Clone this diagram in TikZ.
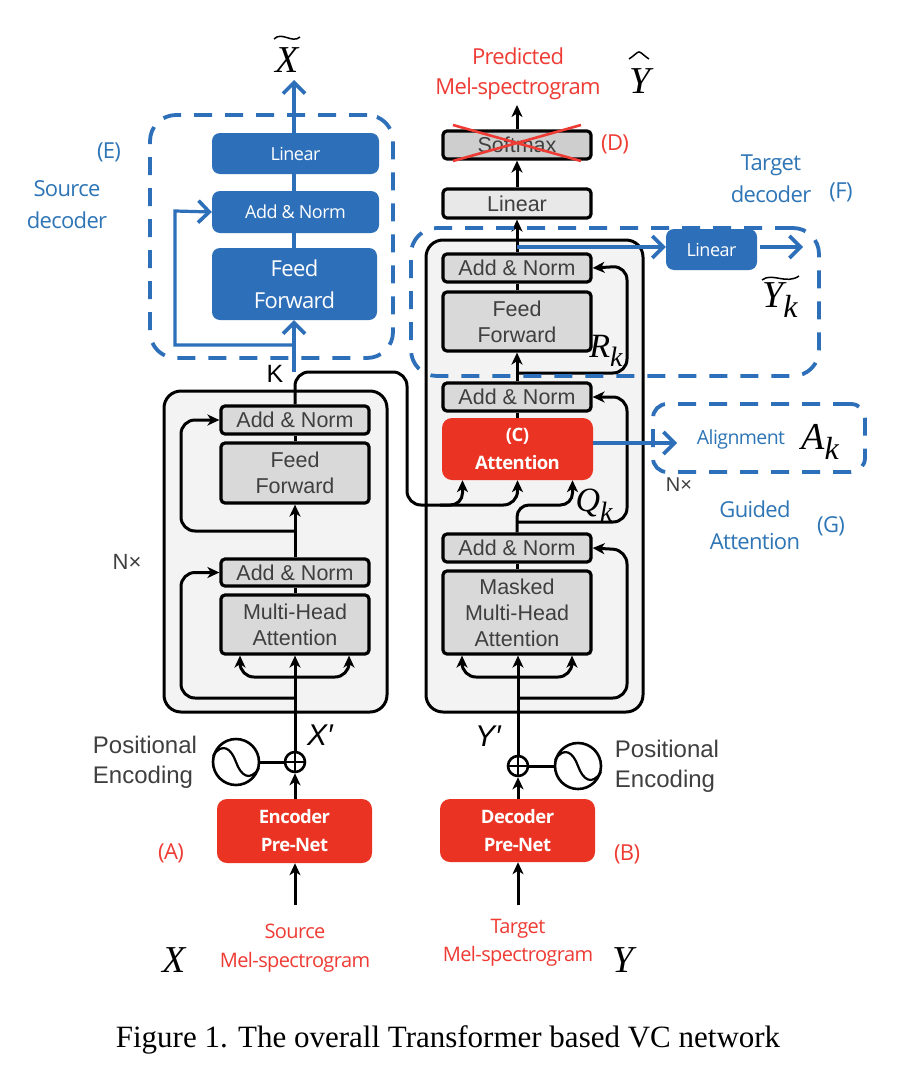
\documentclass[tikz,border=0pt]{standalone}
\usepackage{fontspec}
\usetikzlibrary{arrows.meta}
\setmainfont{Liberation Sans}
\newfontfamily\opn[LetterSpace=-3]{Open Sans}
\newfontfamily\tms{Liberation Serif}
\newcommand{\subk}[1]{\raisebox{-0.28em}{\fontsize{#1}{#1}\selectfont k}}
\definecolor{bluedk}{HTML}{2E6FB9}
\definecolor{bluelb}{HTML}{2E75B6}
\definecolor{redbx}{HTML}{EA3323}
\definecolor{redtx}{HTML}{EE3B34}
\definecolor{graybx}{HTML}{D9D9D9}
\definecolor{graypn}{HTML}{F3F3F3}
\definecolor{graytx}{HTML}{3F3F3F}
\tikzset{
  x=1pt,y=-1pt,
  tri/.style={-{Stealth[length=12pt,width=11pt,inset=3.5pt]}},
  wire/.style={line width=3pt,black,rounded corners=14pt},
  bwire/.style={line width=4pt,bluedk},
  barb/.style={-{Straight Barb[length=11pt,width=22pt,line width=3.6pt]}},
  panel/.style={draw=black,line width=3pt,fill=graypn,rounded corners=17pt,inner sep=0pt},
  gbox/.style={draw=black,line width=3.2pt,fill=graybx,rounded corners=4pt,minimum width=148pt,inner sep=0pt,align=center,text=graytx,font=\fontsize{21.5}{26}\selectfont},
  bbox/.style={fill=bluedk,rounded corners=8pt,inner sep=0pt,align=center,text=white,font=\opn\fontsize{22}{32}\selectfont},
  rbox/.style={fill=redbx,rounded corners=10pt,inner sep=0pt,align=center,text=white,font=\opn\bfseries\fontsize{18.5}{28}\selectfont},
  dbox/.style={draw=bluedk,line width=3.8pt,dash pattern=on 18pt off 13pt,rounded corners=26pt,inner sep=0pt},
  bluelab/.style={text=bluelb,align=center,inner sep=0pt,font=\opn\fontsize{22}{32}\selectfont},
  redlab/.style={text=redtx,align=center,inner sep=0pt,font=\opn\fontsize{22}{30}\selectfont},
  graylab/.style={text=graytx,align=left,inner sep=0pt,font=\fontsize{24}{30}\selectfont},
  mathlab/.style={text=black,inner sep=0pt,font=\tms\itshape\fontsize{38}{38}\selectfont},
  mathmid/.style={text=black,inner sep=0pt,font=\tms\itshape\fontsize{34}{34}\selectfont},
  primelab/.style={text=black,inner sep=0pt,font=\itshape\fontsize{30}{30}\selectfont},
  sinecirc/.style={draw=black,line width=2.6pt,circle,minimum size=46pt,inner sep=0pt},
  pluscirc/.style={draw=black,line width=2.6pt,circle,fill=white,minimum size=20pt,inner sep=0pt},
  sinewave/.pic={\draw[line width=2.2pt] (-23,-6) .. controls (-14,-20) and (-5,-14) .. (0,0) .. controls (5,14) and (14,20) .. (23,6);},
}
\begin{document}
\begin{tikzpicture}
\useasboundingbox (0,0) rectangle (904,1084);
\fill[white] (0,0) rectangle (904,1084);

% panels
\node[panel,minimum width=223pt,minimum height=321pt] (encpanel) at (275.5,551.5) {};
\node[panel,minimum width=217pt,minimum height=472pt] (decpanel) at (534.5,476) {};

% encoder blocks
\node[gbox,minimum height=28pt] (ean2) at (295,420) {Add \& Norm};
\node[gbox,minimum height=60pt] (eff) at (295,473) {Feed\\Forward};
\node[gbox,minimum height=27pt] (ean1) at (295,572.5) {Add \& Norm};
\node[gbox,minimum height=59pt] (emh) at (295,624.5) {Multi-Head\\Attention};

% decoder blocks
\node[gbox,minimum height=28pt,fill=graybx!95!black] (dsm) at (517,145) {Softmax};
\node[gbox,minimum height=29pt,fill=graybx!60!white] (dlin) at (517,203.5) {Linear};
\node[gbox,minimum height=28pt] (dan3) at (517,268) {Add \& Norm};
\node[gbox,minimum height=59pt] (dff) at (517,321.5) {Feed\\Forward};
\node[gbox,minimum height=28pt] (dan2) at (517,397) {Add \& Norm};
\node[rbox,minimum width=151pt,minimum height=62pt] (datt) at (517.5,449) {(C)\\Attention};
\node[gbox,minimum height=28pt] (dan1) at (517,548) {Add \& Norm};
\node[gbox,minimum height=83pt] (dmh) at (517,612.5) {Masked\\Multi-Head\\Attention};

% pre-nets, encoding
\node[rbox,minimum width=155pt,minimum height=64pt] (epre) at (294.5,831) {Encoder\\Pre-Net};
\node[rbox,minimum width=155pt,minimum height=63pt] (dpre) at (517.5,830.5) {Decoder\\Pre-Net};
\node[pluscirc] (eplus) at (295,762) {};
\node[pluscirc] (dplus) at (518,766) {};
\node[sinecirc] (esine) at (236,762) {};
\node[sinecirc] (dsine) at (578,766) {};
\pic at (esine.center) {sinewave};
\pic at (dsine.center) {sinewave};
\draw[line width=1.8pt] (eplus.north) -- (eplus.south) (eplus.west) -- (eplus.east);
\draw[line width=1.8pt] (dplus.north) -- (dplus.south) (dplus.west) -- (dplus.east);
\draw[wire] (esine) -- (eplus);
\draw[wire] (dsine) -- (dplus);

% free ends
\coordinate (ein) at (295,905);
\coordinate (din) at (518,905);
\coordinate (dout) at (517,105);
\coordinate (erisk) at (295,698);
\coordinate (drisk) at (518,698);

% encoder wires
\draw[wire,tri] (ein) -- (epre.south -| ein);
\draw[wire,tri] (din) -- (dpre.south -| din);
\draw[wire,tri] (epre.north -| eplus) -- (eplus.south);
\draw[wire,tri] (dpre.north -| dplus) -- (dplus.south);
\draw[wire,tri] (eplus.north) -- (emh.south);
\draw[wire,tri] (295,677) -| ([xshift=-55pt]emh.south);
\draw[wire,tri] (295,677) -| ([xshift=54pt]emh.south);
\draw[wire,tri] (erisk) -| (181,572.5) -- (ean1.west);
\draw[wire] (emh.north) -- (ean1.south);
\draw[wire,tri] (ean1.north) -- (eff.south);
\draw[wire,tri] (295,531) -| (181,420) -- (ean2.west);
\draw[wire] (eff.north) -- (ean2.south);

% decoder wires
\draw[wire,tri] (dplus.north) -- (dmh.south -| dplus);
\draw[wire,tri] (517,677) -| ([xshift=-55pt]dmh.south);
\draw[wire,tri] (517,677) -| ([xshift=55pt]dmh.south);
\draw[wire,tri] (drisk) -| (627,550) -- (dan1.east);
\draw[wire] (dmh.north) -- (dan1.south);
\draw[wire,tri,rounded corners=12pt] (dan1.north) -- (517,505) -| ([xshift=55pt]datt.south);
\draw[wire,tri] (517,522) -| (627,397) -- (dan2.east);
\draw[wire] (datt.north -| dan2) -- (dan2.south);
\draw[wire,tri] (dan2.north) -- (dff.south);
\draw[wire,tri] (517,373) -| (627,266) -- (dan3.east);
\draw[wire] (dff.north) -- (dan3.south);
\draw[wire,tri] (dan3.north) -- (dlin.south);
\draw[wire,tri] (dlin.north) -- (dsm.south);
\draw[wire,tri] (dsm.north) -- (dout);

% encoder output to decoder attention
\draw[wire,tri] (ean2.north) -- (295,372) -- (407,372) -- (407,505) -- (517.5,505) -- (datt.south);
\draw[wire,tri,rounded corners=12pt] (440,505) -| ([xshift=-55pt]datt.south);

% softmax cross
\draw[redtx,line width=2.6pt] (453,125) -- (581,161) (453,161) -- (581,125);

% source decoder
\node[dbox,minimum width=243pt,minimum height=243pt] (sdash) at (271.5,236.5) {};
\node[bbox,minimum width=167pt,minimum height=41pt,font=\opn\fontsize{18}{22}\selectfont] (slin) at (295.5,153.5) {Linear};
\node[bbox,minimum width=167pt,minimum height=42pt,font=\opn\fontsize{18}{22}\selectfont] (san) at (295.5,212) {Add \& Norm};
\node[bbox,minimum width=165pt,minimum height=72pt] (sff) at (294.5,284) {Feed\\Forward};
\coordinate (sin) at (294,372);
\coordinate (sout) at (294,80);
\draw[bwire,barb] (sin) -- (sff.south -| sin);
\draw[bwire,line width=3.2pt,barb] (294,345) -- (175,345) -- (175,211) -- (san.west);
\draw[bwire] (sff.north -| sout) -- (san.south -| sout);
\draw[bwire] (san.north -| sout) -- (slin.south -| sout);
\draw[bwire,barb] (slin.north -| sout) -- (sout);

% target decoder
\node[dbox,minimum width=408pt,minimum height=148pt] (tdash) at (615,302) {};
\node[bbox,minimum width=91pt,minimum height=41pt,font=\opn\fontsize{18}{22}\selectfont] (tlin) at (711.5,249.5) {Linear};
\coordinate (tout) at (803,247);
\coordinate (ttap) at (517,247);
\draw[bwire,barb] (ttap) -- (tlin.west |- ttap);
\draw[bwire,barb] ([xshift=3pt]tlin.east |- tout) -- (tout);

% guided attention
\node[dbox,minimum width=212pt,minimum height=68pt,rounded corners=14pt] (gdash) at (759,438) {};
\coordinate (gout) at (677,443);
\draw[bwire,barb] (datt.east |- gout) -- (gout);

% labels
\node[bluelab] (lE) at (109,152) {(E)};
\node[bluelab] (lsd) at (67,205) {Source\\decoder};
\node[bluelab] (ltd) at (771,179) {Target\\decoder};
\node[bluelab] (lF) at (841,192) {(F)};
\node[bluelab,font=\opn\fontsize{19.5}{22}\selectfont] (lal) at (741,439) {Alignment};
\node[bluelab] (lga) at (755,525) {Guided\\Attention};
\node[bluelab] (lG) at (831,526) {(G)};
\node[redlab] (lpred) at (518,74) {Predicted\\Mel-spectrogram};
\node[redlab] (lD) at (615,144) {(D)};
\node[redlab] (lA) at (171,853) {(A)};
\node[redlab] (lB) at (627,854) {(B)};
\node[redlab,font=\opn\fontsize{20}{29}\selectfont] (lsrc) at (295,948) {Source\\Mel-spectrogram};
\node[redlab,font=\opn\fontsize{20}{28}\selectfont] (ltgt) at (518,943) {Target\\Mel-spectrogram};
\node[graylab] (lpe1) at (145,762) {Positional\\Encoding};
\node[graylab] (lpe2) at (667,766) {Positional\\Encoding};
\node[graylab,font=\fontsize{22}{26}\selectfont,text=graytx] (lnx1) at (127,562) {N×};
\node[graylab,font=\fontsize{20}{24}\selectfont,text=graytx] (lnx2) at (679,485) {N×};
\node[text=black,inner sep=0pt,font=\fontsize{25}{25}\selectfont] (lK) at (275,374) {K};

\node[mathlab] (mX) at (174,960) {X};
\node[mathlab] (mY) at (623,960) {Y};
\node[mathlab] (mXt) at (287,60) {X};
\draw[line width=1.5pt] ([shift={(-13,-21)}]mXt.center) .. controls ([shift={(-5,-29)}]mXt.center) and ([shift={(5,-16)}]mXt.center) .. ([shift={(13,-23)}]mXt.center);
\node[mathlab] (mYh) at (640,81) {Y};
\draw[line width=1.5pt] ([shift={(-11,-22)}]mYh.center) .. controls ([shift={(-5,-26)}]mYh.center) and ([shift={(-3,-29)}]mYh.center) .. ([shift={(-1,-29)}]mYh.center) .. controls ([shift={(1,-29)}]mYh.center) and ([shift={(3,-26)}]mYh.center) .. ([shift={(9,-22)}]mYh.center);
\node[primelab] (mXp) at (320,735) {X′};
\node[primelab] (mYp) at (488,736) {Y′};
\node[mathmid] (mR) at (606,351) {R\subk{28}};
\node[mathmid] (mQ) at (594,505) {Q\subk{28}};
\node[mathlab] (mA) at (820,442) {A\subk{32}};
\node[mathlab] (mYk) at (780,300) {Y\subk{32}};
\draw[line width=1.5pt] ([shift={(-18,-20)}]mYk.center) .. controls ([shift={(-8,-28)}]mYk.center) and ([shift={(6,-15)}]mYk.center) .. ([shift={(19,-24)}]mYk.center);

\node[text=black,inner sep=0pt,font=\tms\fontsize{31}{34}\selectfont] (cap) at (448,1040) {Figure 1. The overall Transformer based VC network};
\end{tikzpicture}
\end{document}
